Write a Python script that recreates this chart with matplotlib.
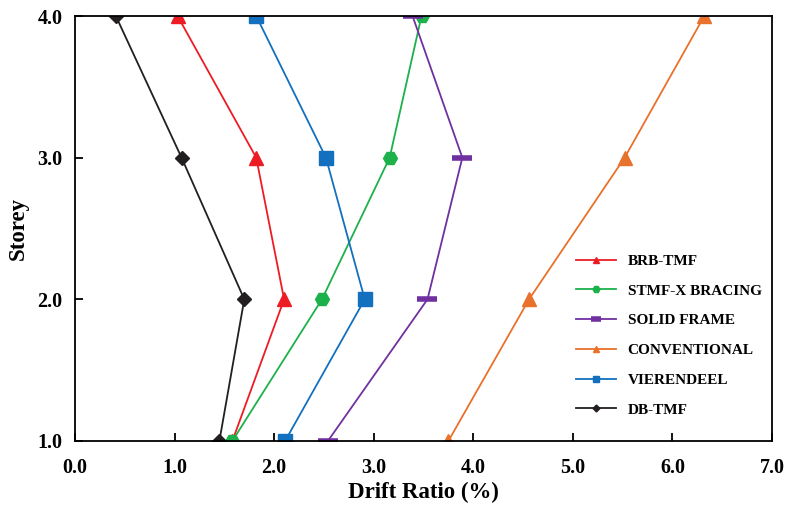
import matplotlib.pyplot as plt

storey = [1.0, 2.0, 3.0, 4.0]

# drift ratio (%) per storey, bottom to top
brb_tmf = [1.58, 2.10, 1.82, 1.03]
stmf_x = [1.58, 2.48, 3.16, 3.48]
solid_frame = [2.54, 3.54, 3.89, 3.39]
conventional = [3.75, 4.56, 5.52, 6.32]
vierendeel = [2.11, 2.91, 2.52, 1.82]
db_tmf = [1.45, 1.70, 1.07, 0.41]

plt.rcParams['font.family'] = ['Liberation Serif', 'DejaVu Serif']
plt.rcParams['font.weight'] = 'bold'

fig = plt.figure(figsize=(7.88, 5.13), dpi=100)
ax = fig.add_axes([0.0952, 0.1404, 0.8845, 0.8284])

ax.plot(brb_tmf, storey, color='#ED1C24', marker='^', markersize=10, lw=1.3,
        label='BRB-TMF')
ax.plot(stmf_x, storey, color='#1DB14B', marker='H', markersize=10, lw=1.3,
        label='STMF-X BRACING')
ax.plot(solid_frame, storey, color='#7030A0', marker='_', markersize=15,
        markeredgewidth=4, lw=1.3, label='SOLID FRAME')
ax.plot(conventional, storey, color='#E8712B', marker='^', markersize=10, lw=1.3,
        label='CONVENTIONAL')
ax.plot(vierendeel, storey, color='#1370BE', marker='s', markersize=10, lw=1.3,
        label='VIERENDEEL')
ax.plot(db_tmf, storey, color='#231F20', marker='D', markersize=7, lw=1.3,
        label='DB-TMF')

ax.set_xlim(0, 7)
ax.set_ylim(1, 4)
ax.set_xticks(range(8))
ax.set_xticklabels([f'{v:.1f}' for v in range(8)])
ax.set_yticks(storey)
ax.set_yticklabels([f'{v:.1f}' for v in storey])
ax.tick_params(direction='in', length=6, width=1.3, labelsize=14.5)
ax.tick_params(axis='x', pad=12)
ax.tick_params(axis='y', pad=9)

for s in ax.spines.values():
    s.set_linewidth(1.3)

ax.set_xlabel('Drift Ratio (%)', fontsize=16.5, fontweight='bold', labelpad=3)
ax.set_ylabel('Storey', fontsize=16.5, fontweight='bold', labelpad=6)

ax.legend(loc='lower right', bbox_to_anchor=(1.005, 0.025), frameon=False,
          fontsize=11, markerscale=0.5, labelspacing=1.05, handlelength=2.6)

fig.savefig('out.png', dpi=100)
